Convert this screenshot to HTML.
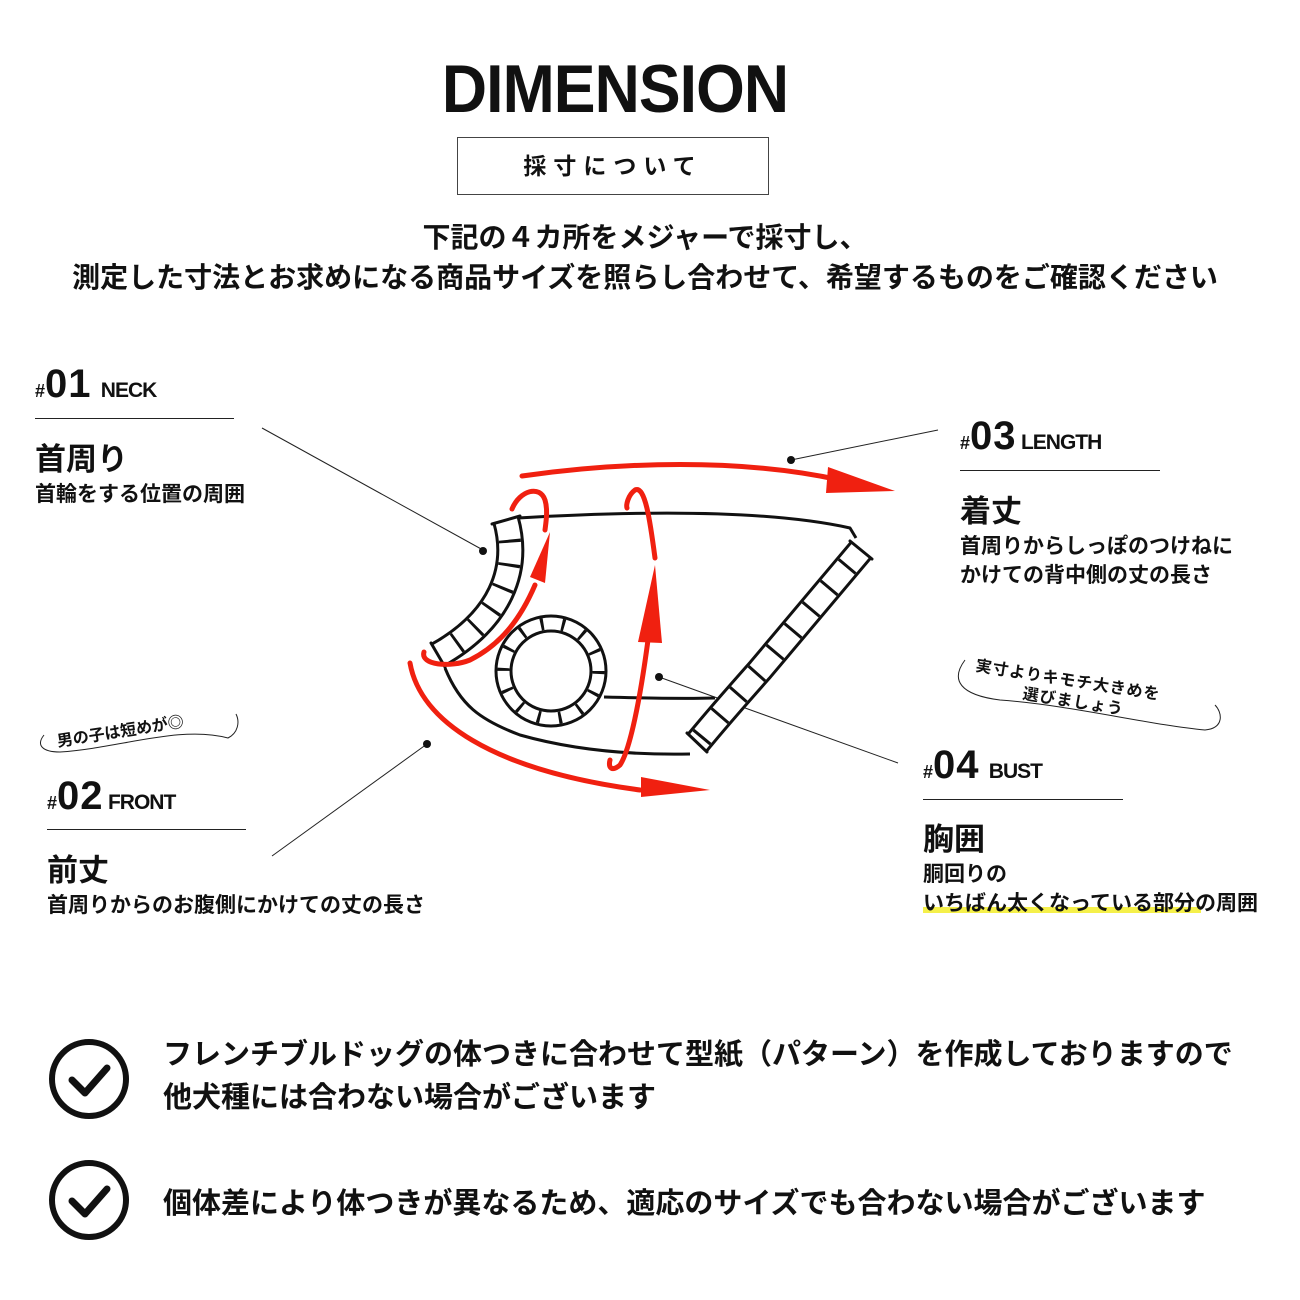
<!DOCTYPE html>
<html><head><meta charset="utf-8"><style>
body{margin:0;background:#fff;}
#c{position:relative;width:1300px;height:1300px;overflow:hidden;font-family:"Liberation Sans","Noto Sans CJK JP",sans-serif;color:#111;}
.a{position:absolute;white-space:nowrap;}
.b{font-weight:bold;}
.hr{position:absolute;height:1px;background:#222;}
.num{font-size:40px;font-weight:900;letter-spacing:1px;}
.hash{font-size:18px;font-weight:900;}
.en{font-size:21px;font-weight:bold;letter-spacing:-1px;}
.tt{font-size:31px;font-weight:bold;}
.ds{font-size:21px;font-weight:bold;line-height:29px;}
</style></head><body><div id="c">
<div class="a b" style="left:0;width:1230px;text-align:center;top:50px;font-size:68px;letter-spacing:-1px;transform:scaleX(0.92);transform-origin:615px 0;">DIMENSION</div>
<div class="a" style="left:457px;top:137px;width:312px;height:58px;border:1px solid #444;box-sizing:border-box;text-align:center;line-height:56px;font-size:23px;font-weight:bold;letter-spacing:7px;">採寸について</div>
<div class="a b" style="left:0;width:1290px;text-align:center;top:218px;font-size:28px;line-height:40px;">下記の４カ所をメジャーで採寸し、<br>測定した寸法とお求めになる商品サイズを照らし合わせて、希望するものをご確認ください</div>

<div class="a" style="left:35px;top:362px;"><span class="hash">#</span><span class="num">01</span> <span class="en">&nbsp;NECK</span></div>
<div class="hr" style="left:35px;top:418px;width:199px;"></div>
<div class="a tt" style="left:35px;top:434px;">首周り</div>
<div class="a ds" style="left:35px;top:480px;">首輪をする位置の周囲</div>

<div class="a" style="left:960px;top:414px;"><span class="hash">#</span><span class="num">03</span> <span class="en">LENGTH</span></div>
<div class="hr" style="left:960px;top:470px;width:200px;"></div>
<div class="a tt" style="left:960px;top:486px;">着丈</div>
<div class="a ds" style="left:960px;top:532px;">首周りからしっぽのつけねに<br>かけての背中側の丈の長さ</div>

<div class="a" style="left:47px;top:774px;"><span class="hash">#</span><span class="num">02</span> <span class="en">FRONT</span></div>
<div class="hr" style="left:47px;top:829px;width:199px;"></div>
<div class="a tt" style="left:47px;top:845px;">前丈</div>
<div class="a ds" style="left:47px;top:891px;">首周りからのお腹側にかけての丈の長さ</div>

<div class="a" style="left:923px;top:743px;"><span class="hash">#</span><span class="num">04</span> <span class="en">&nbsp;BUST</span></div>
<div class="hr" style="left:923px;top:799px;width:200px;"></div>
<div class="a tt" style="left:923px;top:814px;">胸囲</div>
<div style="position:absolute;left:923px;top:907px;width:278px;height:6px;background:#f5f04a;"></div>
<div class="a ds" style="left:923px;top:860px;">胴回りの<br>いちばん太くなっている部分の周囲</div>

<div class="a b" style="left:55px;top:728px;font-size:16px;transform:rotate(-9deg);transform-origin:left top;">男の子は短めが◎</div>
<div class="a b" style="left:978px;top:652px;font-size:16px;transform:rotate(9deg);transform-origin:left top;letter-spacing:1px;">実寸よりキモチ大きめを</div>
<div class="a b" style="left:1025px;top:680px;font-size:16px;transform:rotate(9deg);transform-origin:left top;letter-spacing:1px;">選びましょう</div>

<svg class="a" style="left:0;top:0" width="1300" height="1300" viewBox="0 0 1300 1300">
<g fill="none" stroke="#222" stroke-width="1">
<path d="M44 735 C36 745 42 752 60 752 C120 748 180 725 228 738 C238 733 240 722 236 714"/>
<path d="M965 660 C950 680 960 695 1000 700 C1070 705 1150 725 1205 730 C1225 728 1222 712 1215 705"/>
<line x1="262" y1="428" x2="483" y2="550"/>
<line x1="938" y1="430" x2="791" y2="460"/>
<line x1="272" y1="856" x2="427" y2="744"/>
<line x1="898" y1="763" x2="659" y2="677"/>
</g>
<g fill="#111"><circle cx="483" cy="551" r="4"/><circle cx="791" cy="460" r="4"/><circle cx="427" cy="744" r="4"/><circle cx="659" cy="677" r="4"/></g>
<g fill="none" stroke="#111" stroke-width="3" stroke-linejoin="round">
<path d="M518 518 C620 512 760 508 850 528 L856 538"/>
<path d="M445 668 C460 705 480 720 520 735 C580 752 640 755 690 754"/>
<path d="M604 697 C640 698 680 699 715 698"/>
</g>
<g fill="none">
<path d="M506 520 C520 570 500 620 438 655" stroke="#111" stroke-width="28"/>
<path d="M506 520 C520 570 500 620 438 655" stroke="#fff" stroke-width="22"/>
<path d="M506 520 C520 570 500 620 438 655" stroke="#111" stroke-width="22" stroke-dasharray="3 21" stroke-dashoffset="-20"/>
<path d="M861 550 L760 670 Q720 715 697 743" stroke="#111" stroke-width="28"/>
<path d="M861 550 L760 670 Q720 715 697 743" stroke="#fff" stroke-width="22"/>
<path d="M861 550 L760 670 Q720 715 697 743" stroke="#111" stroke-width="22" stroke-dasharray="3 25" stroke-dashoffset="-20"/>
<circle cx="551" cy="671" r="47.5" stroke="#111" stroke-width="18"/>
<circle cx="551" cy="671" r="47.5" stroke="#fff" stroke-width="12"/>
<circle cx="551" cy="671" r="47.5" stroke="#111" stroke-width="12" stroke-dasharray="3 18.3"/>
</g>
<g stroke="#111" stroke-width="3" stroke-linecap="round">
<line x1="520" y1="516" x2="492" y2="524"/>
<line x1="445" y1="667" x2="431" y2="643"/>
<line x1="872" y1="559" x2="850" y2="541"/>
<line x1="707" y1="752" x2="687" y2="733"/>
</g>
<g fill="none" stroke="#f02010" stroke-width="5" stroke-linecap="round">
<path d="M522 476 C620 462 740 458 840 480"/>
<path d="M512 509 C520 490 540 485 545 500 C548 510 546 522 545 530"/>
<path d="M424 652 C420 665 450 668 470 660 C500 645 520 620 535 585"/>
<path d="M410 663 C420 720 490 770 640 790"/>
<path d="M655 558 C650 520 645 485 635 490 C628 495 626 505 627 508"/>
<path d="M648 640 C640 700 630 750 620 765 C612 772 608 768 610 760"/>
</g>
<g fill="#f02010">
<polygon points="828,467 895,491 826,493"/>
<polygon points="530,577 550,532 545,583"/>
<polygon points="638,642 655,565 662,643"/>
<polygon points="641,777 710,790 641,797"/>
</g>
<g fill="none" stroke="#111" stroke-width="6"><circle cx="89" cy="1079" r="37"/><circle cx="89" cy="1200" r="37"/></g>
<g fill="none" stroke="#111" stroke-width="7" stroke-linecap="round" stroke-linejoin="round"><path d="M72 1080 L85 1093 L107 1068"/><path d="M72 1201 L85 1214 L107 1189"/></g>
</svg>
<div class="a" style="left:163px;top:1034px;font-size:29px;line-height:43px;font-weight:bold;">フレンチブルドッグの体つきに合わせて型紙（パターン）を作成しておりますので<br>他犬種には合わない場合がございます</div>
<div class="a" style="left:163px;top:1180px;font-size:29px;font-weight:bold;">個体差により体つきが異なるため、適応のサイズでも合わない場合がございます</div>
</div></body></html>
